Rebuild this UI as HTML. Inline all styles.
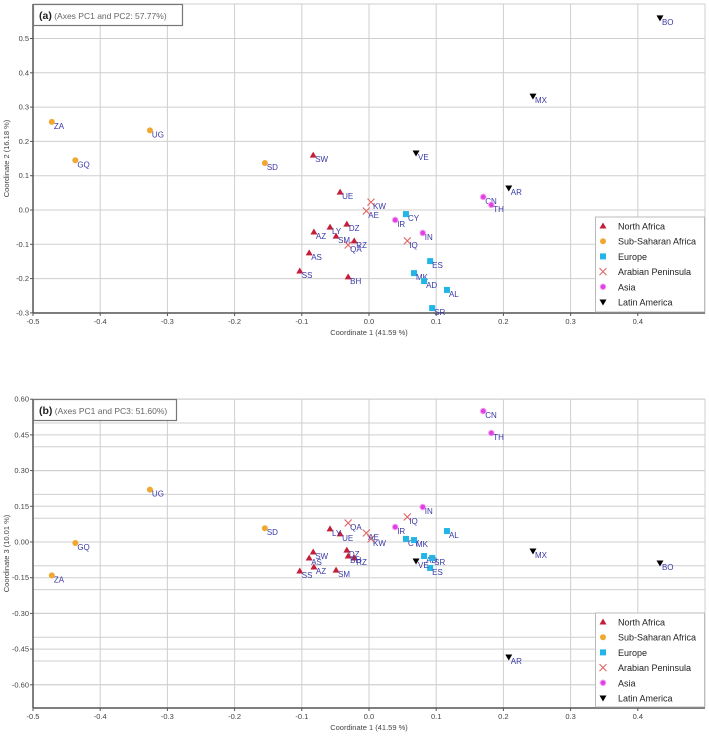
<!DOCTYPE html>
<html><head><meta charset="utf-8">
<style>
html,body{margin:0;padding:0;background:#fff;}
svg{display:block;font-family:"Liberation Sans",sans-serif;}
</style></head>
<body>
<svg id="chart" width="709" height="737" viewBox="0 0 709 737"></svg>
<script>
const codes = ["ZA","GQ","UG","SD","SW","UE","DZ","LY","AZ","SM","RZ","QA","AS","SS","BH","KW","AE","CY","IR","IN","IQ","ES","MK","AD","AL","SR","VE","CN","TH","AR","MX","BO"];
const groups = [1,1,1,1,0,0,0,0,0,0,0,3,0,0,0,3,3,2,4,4,3,2,2,2,2,2,5,4,4,5,5,5];
const pc1 = [-0.472,-0.437,-0.326,-0.155,-0.083,-0.043,-0.033,-0.058,-0.082,-0.049,-0.022,-0.031,-0.089,-0.103,-0.031,0.003,-0.004,0.055,0.039,0.080,0.057,0.091,0.067,0.082,0.116,0.094,0.070,0.170,0.182,0.208,0.244,0.433];
const pc2 = [0.257,0.145,0.232,0.137,0.160,0.052,-0.041,-0.050,-0.064,-0.076,-0.090,-0.102,-0.125,-0.178,-0.195,0.023,-0.003,-0.012,-0.029,-0.067,-0.090,-0.149,-0.184,-0.207,-0.233,-0.286,0.166,0.038,0.015,0.064,0.332,0.560];
const pc3 = [-0.140,-0.004,0.220,0.058,-0.042,0.034,-0.034,0.055,-0.105,-0.118,-0.067,0.080,-0.067,-0.122,-0.059,0.013,0.038,0.013,0.063,0.147,0.105,-0.109,0.008,-0.059,0.046,-0.067,-0.080,0.550,0.458,-0.483,-0.038,-0.088];
const groupNames = ["North Africa","Sub-Saharan Africa","Europe","Arabian Peninsula","Asia","Latin America"];
const groupColors = ["#c41e3a","#f0a830","#22b5e6","#e06464","#e040e0","#000000"];
const xTicks = [-0.5,-0.4,-0.3,-0.2,-0.1,0.0,0.1,0.2,0.3,0.4];
const yTicksA = [0.5,0.4,0.3,0.2,0.1,0.0,-0.1,-0.2,-0.3];
const yTicksB = [0.60,0.45,0.30,0.15,0.00,-0.15,-0.30,-0.45,-0.60];
const yGridB = [0.5,0.4,0.3,0.2,0.1,0.0,-0.1,-0.2,-0.3,-0.4,-0.5,-0.6];

const NS="http://www.w3.org/2000/svg";
const svg=document.getElementById('chart');
function mk(tag,attrs,parent){const e=document.createElementNS(NS,tag);for(const k in attrs)e.setAttribute(k,attrs[k]);(parent||svg).appendChild(e);return e;}
const xs = v => 369 + v*672;

function marker(g,cx,cy,gi,parent){
  const c=groupColors[gi];let e;
  if(gi===0) e=mk('polygon',{points:`${cx},${cy-3.5} ${cx+3.5},${cy+2.5} ${cx-3.5},${cy+2.5}`,fill:c},parent);
  else if(gi===1) e=mk('circle',{cx:cx,cy:cy,r:3,fill:c},parent);
  else if(gi===2) e=mk('rect',{x:cx-3,y:cy-3,width:6,height:6,fill:c},parent);
  else if(gi===3) e=mk('path',{d:`M${cx-3.5},${cy-3.5}L${cx+3.5},${cy+3.5}M${cx+3.5},${cy-3.5}L${cx-3.5},${cy+3.5}`,stroke:c,'stroke-width':1.1,fill:'none'},parent);
  else if(gi===4) e=mk('circle',{cx:cx,cy:cy,r:2.8,fill:c,stroke:'#f4a0f4','stroke-width':1},parent);
  else e=mk('polygon',{points:`${cx-3.5},${cy-2.5} ${cx+3.5},${cy-2.5} ${cx},${cy+3.5}`,fill:c},parent);
  return e;
}

function panel(id,ys,yTop,yBot,yTicks,yGrid,yFmt,ys2,title,titleW,ytitle,legY,legH,axisY){
  const g=mk('g',{});
  
  
  const L=33,R=705;
  // grid
  const allY = yGrid.concat(yTicks);
  allY.forEach(v=>{const y=ys(v);const l=mk('line',{x1:L,x2:R,y1:y,y2:y,stroke:'#cfcfcf','stroke-width':1},g);});
  xTicks.forEach(v=>{const x=xs(v);const l=mk('line',{x1:x,x2:x,y1:yTop,y2:axisY,stroke:'#cfcfcf','stroke-width':1},g);});
  mk('line',{x1:R,x2:R,y1:yTop,y2:axisY,stroke:'#cfcfcf'},g);
  mk('line',{x1:L,x2:R,y1:yTop,y2:yTop,stroke:'#cfcfcf'},g);
  // axes
  const ax=mk('line',{x1:L,x2:R,y1:axisY,y2:axisY,stroke:'#555','stroke-width':1.5},g);
  
  const ay=mk('line',{x1:L,x2:L,y1:yTop,y2:axisY,stroke:'#555','stroke-width':1.5},g);
  
  xTicks.forEach(v=>{const x=xs(v);mk('line',{x1:x,x2:x,y1:axisY,y2:axisY+3,stroke:'#555'},g);
    const t=mk('text',{x:x,y:axisY+11,'font-size':7.5,fill:'#444','text-anchor':'middle'},g);t.textContent=v.toFixed(1);
    });
  yTicks.forEach(v=>{const y=ys(v);mk('line',{x1:L-3,x2:L,y1:y,y2:y,stroke:'#555'},g);
    const t=mk('text',{x:L-4,y:y+2.5,'font-size':7.5,fill:'#444','text-anchor':'end'},g);t.textContent=yFmt(v);
    });
  const xt=mk('text',{x:369,y:axisY+22,'font-size':7.5,fill:'#444','text-anchor':'middle'},g);xt.textContent='Coordinate 1 (41.59 %)';
  
  const yc=(yTop+axisY)/2;
  const yt=mk('text',{x:9,y:yc,'font-size':7.5,fill:'#444','text-anchor':'middle',transform:`rotate(-90 9 ${yc})`},g);yt.textContent=ytitle;
  
  // title box
  const tb=mk('rect',{x:33.5,y:yTop+0.5,width:titleW,height:21,fill:'#fff',stroke:'#777','stroke-width':1.2},g);
  
  const tt=mk('text',{x:39,y:yTop+15,'font-size':10.5,fill:'#222'},g);
  tt.innerHTML='<tspan font-weight="bold">('+id+')</tspan><tspan font-size="8.5" fill="#666"> '+title+'</tspan>';
  
  // points
  codes.forEach((c,i)=>{
    const cx=xs(pc1[i]),cy=ys(ys2[i]);
    const m=marker(g,cx,cy,groups[i],g);
    
    
    const t=mk('text',{x:cx+2,y:cy+7,'font-size':8,fill:'#3838a8'},g);t.textContent=c;
    
  });
  // legend
  const lg=mk('g',{},g);
  
  mk('rect',{x:595.5,y:legY,width:109,height:legH,fill:'#fff',stroke:'#bbb'},lg);
  groupNames.forEach((n,k)=>{
    const yy=legY+9+k*15.2;
    const m=marker(lg,603,yy,k,lg);
    
    const t=mk('text',{x:618,y:yy+3.5,'font-size':9,fill:'#222'},lg);t.textContent=n;
    
  });
}

const ysA = v => 210 - v*343;
panel('a',ysA,4,313,yTicksA,[],v=>v.toFixed(1),pc2,'(Axes PC1 and PC2: 57.77%)',149,'Coordinate 2 (16.18 %)',217,95,313);
const ysB = v => 542 - v*238;
panel('b',ysB,399,708,yTicksB,yGridB,v=>v.toFixed(2),pc3,'(Axes PC1 and PC3: 51.60%)',143,'Coordinate 3 (10.01 %)',613,94,708);
</script>
</body></html>
